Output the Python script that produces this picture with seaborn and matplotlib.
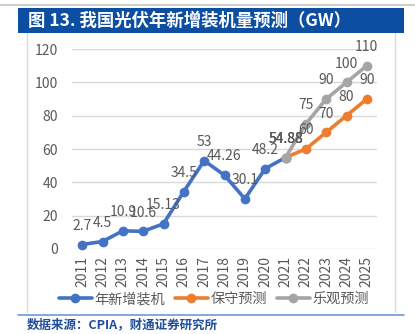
import matplotlib
matplotlib.use("Agg")
import matplotlib.pyplot as plt
import seaborn as sns
import pandas as pd
from matplotlib.lines import Line2D
from matplotlib.patches import Rectangle

sns.set_theme(style="white")
plt.rcParams['font.family'] = ['Noto Sans CJK SC', 'DejaVu Sans']

years_hist = [2011, 2012, 2013, 2014, 2015, 2016, 2017, 2018, 2019, 2020, 2021]
installed = [2.7, 4.5, 10.9, 10.6, 15.13, 34.5, 53, 44.26, 30.1, 48.2, 54.88]
years_fc = [2021, 2022, 2023, 2024, 2025]
conservative = [54.88, 60, 70, 80, 90]
optimistic = [54.88, 75, 90, 100, 110]
series_names = ["年新增装机", "保守预测", "乐观预测"]
colors = ["#4472C4", "#ED7D31", "#A5A5A5"]
all_years = list(range(2011, 2026))

df = pd.concat([
    pd.DataFrame({"year": years_hist, "value": installed, "series": series_names[0]}),
    pd.DataFrame({"year": years_fc, "value": conservative, "series": series_names[1]}),
    pd.DataFrame({"year": years_fc, "value": optimistic, "series": series_names[2]}),
])

fig = plt.figure(figsize=(4.15, 3.34), dpi=100)
ax = fig.add_axes([72/415, 1-249/334, (377-72)/415, 200/334])

pal = dict(zip(series_names, colors))
sns.lineplot(data=df, x="year", y="value", hue="series", palette=pal,
             hue_order=series_names, marker="o", markersize=7, markeredgewidth=0,
             linewidth=2.6, ax=ax, legend=False, sort=False)
for l in ax.lines:
    l.set_clip_on(False)

ax.set_xlim(2010.5, 2025.5)
ax.set_ylim(0, 120)
ax.set_yticks(range(0, 121, 20))
ax.set_xticks(all_years)
ax.set_xticklabels([str(y) for y in all_years], rotation=90)
ax.set_xlabel("")
ax.set_ylabel("")
ax.grid(axis="y", color="#D9D9D9", linewidth=1)
ax.set_axisbelow(True)
for s in ax.spines.values():
    s.set_visible(False)
ax.tick_params(axis="both", length=0, labelsize=10, labelcolor="#595959")
ax.tick_params(axis="x", pad=5)
ax.tick_params(axis="y", pad=10)

lab_kw = dict(textcoords="offset points", ha="center", va="bottom",
              fontsize=10, color="#595959")
for x, y in zip(years_hist, installed):
    ax.annotate(f"{y:g}", (x, y), xytext=(0, 8.5), **lab_kw)
for x, y in zip(years_fc, conservative):
    ax.annotate(f"{y:g}", (x, y), xytext=(0, 8.5), **lab_kw)
for x, y in zip(years_fc, optimistic):
    ax.annotate(f"{y:g}", (x, y), xytext=(0, 8.5), **lab_kw)

# legend
handles = [Line2D([0], [0], color=c, lw=2.6, marker="o", markersize=7,
                  markeredgewidth=0) for c in colors]
fig.legend(handles, series_names, loc="center", bbox_to_anchor=(214/415, 1-299/334),
           ncol=3, frameon=False, fontsize=10.2, handlelength=2.3,
           handletextpad=0.2, columnspacing=0.7, labelcolor="#595959",
           borderpad=0, borderaxespad=0)

# frame and title bar
fig.add_artist(Line2D([0, 1], [1-5/334, 1-5/334], color="#D0D0D0", lw=1.5))
fig.add_artist(Rectangle((18/415, 1-33/334), 386/415, 25/334,
                         facecolor="#0B4EA2", edgecolor="none"))
fig.text(28/415, 1-20.5/334, "图 13. 我国光伏年新增装机量预测（GW）", color="white",
         fontsize=12.5, fontweight="bold", va="center", ha="left")
fig.add_artist(Line2D([27/415, 27/415], [1-312/334, 1-33/334], color="#D9D9D9", lw=1))
fig.add_artist(Line2D([395/415, 395/415], [1-312/334, 1-33/334], color="#D9D9D9", lw=1))
fig.add_artist(Line2D([18/415, 404/415], [1-315/334, 1-315/334], color="#6C9BD2", lw=1.2))
fig.text(27/415, 1-325/334, "数据来源：CPIA，财通证券研究所", color="#1F4E9A",
         fontsize=9, fontweight="bold", va="center", ha="left")

fig.savefig("out.png", dpi=100)
